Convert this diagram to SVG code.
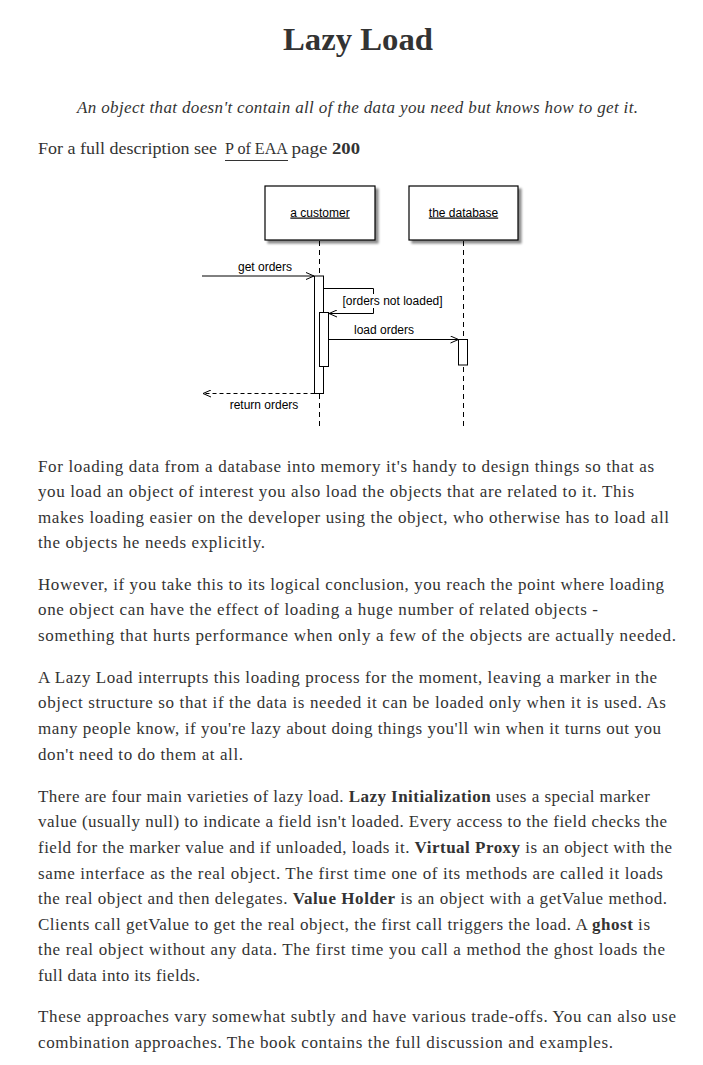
<svg xmlns="http://www.w3.org/2000/svg" width="703" height="1065" viewBox="0 0 703 1065">
<style>
.title{font-family:"Liberation Serif",serif;font-weight:bold;font-size:32px;fill:#333}
.sub{font-family:"Liberation Serif",serif;font-style:italic;font-size:17px;fill:#333}
.body{font-family:"Liberation Serif",serif;font-size:17px;fill:#333}
.b{font-weight:bold}
.lbl{font-family:"Liberation Sans",Arial,sans-serif;font-size:12px;fill:#000}
.box{fill:#fff;stroke:#000;stroke-width:1.2}
.act{fill:#fff;stroke:#000;stroke-width:1}
.life{stroke:#000;stroke-width:1;stroke-dasharray:5,4;fill:none}
.msg{stroke:#000;stroke-width:1;fill:none}
.ret{stroke:#000;stroke-width:1;fill:none;stroke-dasharray:4,3}
</style>
<defs>
<filter id="sh" x="-10%" y="-10%" width="130%" height="140%">
<feDropShadow dx="3" dy="3" stdDeviation="1.3" flood-color="#000" flood-opacity="0.45"/>
</filter>
<marker id="open" viewBox="0 0 10 8" refX="9" refY="4" markerWidth="10" markerHeight="8" markerUnits="userSpaceOnUse" orient="auto">
<path d="M1,0.5 L9,4 L1,7.5" fill="none" stroke="#000" stroke-width="1"/>
</marker>
</defs>
<rect width="703" height="1065" fill="#fff"/>

<text class="title" x="283" y="50" textLength="150" lengthAdjust="spacingAndGlyphs">Lazy Load</text>
<text class="sub" x="77" y="113.3" textLength="561" lengthAdjust="spacing">An object that doesn't contain all of the data you need but knows how to get it.</text>
<text class="body" x="38" y="154.3" textLength="179" lengthAdjust="spacingAndGlyphs">For a full description see</text>
<text class="body" x="225" y="154.3" textLength="63" lengthAdjust="spacingAndGlyphs">P of EAA</text>
<line x1="225" y1="160.5" x2="288" y2="160.5" stroke="#333" stroke-width="1"/>
<text class="body" x="291.5" y="154.3" textLength="36" lengthAdjust="spacingAndGlyphs">page</text>
<text class="body b" x="332" y="154.3" textLength="28" lengthAdjust="spacingAndGlyphs">200</text>

<g id="lifelines">
<line class="life" x1="319.5" y1="241" x2="319.5" y2="430"/>
<line class="life" x1="463.5" y1="241" x2="463.5" y2="430"/>
</g>

<g id="node-customer">
<rect class="box" x="265" y="186" width="110" height="54" filter="url(#sh)"/>
<text class="lbl" x="320" y="216.5" text-anchor="middle" text-decoration="underline">a customer</text>
</g>
<g id="node-database">
<rect class="box" x="409" y="186" width="109" height="54" filter="url(#sh)"/>
<text class="lbl" x="463.5" y="216.5" text-anchor="middle" text-decoration="underline">the database</text>
</g>

<g id="activations">
<rect class="act" x="314.5" y="276" width="9" height="117.5"/>
<rect class="act" x="319.5" y="312.5" width="9" height="54"/>
<rect class="act" x="458.5" y="339.5" width="9" height="25.5"/>
</g>

<g id="connectors">
<path class="msg" d="M202,276 H314" marker-end="url(#open)"/>
<text class="lbl" x="265" y="271" text-anchor="middle">get orders</text>
<path class="msg" d="M323.5,288.5 H373.5 V313.5 H329" marker-end="url(#open)"/>
<rect x="341" y="294" width="102" height="14" fill="#fff"/>
<text class="lbl" x="342.5" y="305">[orders not loaded]</text>
<path class="msg" d="M328.5,339.5 H458.5" marker-end="url(#open)"/>
<text class="lbl" x="384" y="333.5" text-anchor="middle">load orders</text>
<path class="ret" d="M314.5,393.5 H203" marker-end="url(#open)"/>
<text class="lbl" x="264" y="409" text-anchor="middle">return orders</text>
</g>

<g id="text-body">
<text class="body" x="38" y="471.5" textLength="616" lengthAdjust="spacing">For loading data from a database into memory it's handy to design things so that as</text>
<text class="body" x="38" y="497.1" textLength="596" lengthAdjust="spacing">you load an object of interest you also load the objects that are related to it. This</text>
<text class="body" x="38" y="522.7" textLength="631" lengthAdjust="spacing">makes loading easier on the developer using the object, who otherwise has to load all</text>
<text class="body" x="38" y="548.3" textLength="227" lengthAdjust="spacing">the objects he needs explicitly.</text>

<text class="body" x="38" y="589.5" textLength="626" lengthAdjust="spacing">However, if you take this to its logical conclusion, you reach the point where loading</text>
<text class="body" x="38" y="615.1" textLength="560" lengthAdjust="spacing">one object can have the effect of loading a huge number of related objects -</text>
<text class="body" x="38" y="640.7" textLength="638" lengthAdjust="spacing">something that hurts performance when only a few of the objects are actually needed.</text>

<text class="body" x="38" y="682.7" textLength="619" lengthAdjust="spacing">A Lazy Load interrupts this loading process for the moment, leaving a marker in the</text>
<text class="body" x="38" y="708.3" textLength="628" lengthAdjust="spacing">object structure so that if the data is needed it can be loaded only when it is used. As</text>
<text class="body" x="38" y="733.9" textLength="623" lengthAdjust="spacing">many people know, if you're lazy about doing things you'll win when it turns out you</text>
<text class="body" x="38" y="759.5" textLength="205" lengthAdjust="spacing">don't need to do them at all.</text>

<text class="body" x="38" y="801.7" textLength="612" lengthAdjust="spacing">There are four main varieties of lazy load. <tspan class="b">Lazy Initialization</tspan> uses a special marker</text>
<text class="body" x="38" y="827.3" textLength="629" lengthAdjust="spacing">value (usually null) to indicate a field isn't loaded. Every access to the field checks the</text>
<text class="body" x="38" y="852.9" textLength="634" lengthAdjust="spacing">field for the marker value and if unloaded, loads it. <tspan class="b">Virtual Proxy</tspan> is an object with the</text>
<text class="body" x="38" y="878.5" textLength="625" lengthAdjust="spacing">same interface as the real object. The first time one of its methods are called it loads</text>
<text class="body" x="38" y="904.1" textLength="629" lengthAdjust="spacing">the real object and then delegates. <tspan class="b">Value Holder</tspan> is an object with a getValue method.</text>
<text class="body" x="38" y="929.7" textLength="612" lengthAdjust="spacing">Clients call getValue to get the real object, the first call triggers the load. A <tspan class="b">ghost</tspan> is</text>
<text class="body" x="38" y="955.3" textLength="627" lengthAdjust="spacing">the real object without any data. The first time you call a method the ghost loads the</text>
<text class="body" x="38" y="980.9" textLength="162" lengthAdjust="spacing">full data into its fields.</text>

<text class="body" x="38" y="1022" textLength="638" lengthAdjust="spacing">These approaches vary somewhat subtly and have various trade-offs. You can also use</text>
<text class="body" x="38" y="1047.6" textLength="575" lengthAdjust="spacing">combination approaches. The book contains the full discussion and examples.</text>
</g>
</svg>
